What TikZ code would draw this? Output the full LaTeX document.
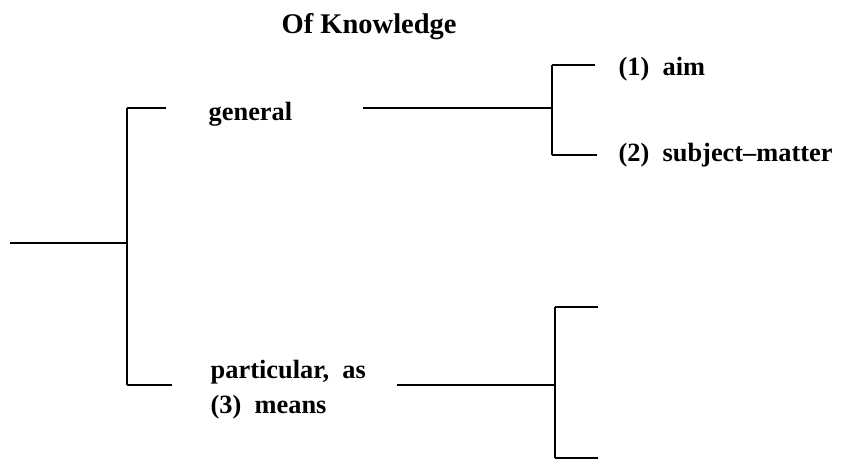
\documentclass[tikz,border=0pt]{standalone}
\usepackage{fontspec}
\setmainfont{Liberation Serif}
\usepackage{tikz}
\usetikzlibrary{positioning}

\tikzset{
  lbl/.style={inner sep=0pt, anchor=base west, font=\bfseries\fontsize{7.5}{9}\selectfont},
  head/.style={lbl, font=\bfseries\fontsize{8.1}{10}\selectfont},
  stub/.style={line width=0.8pt},
  stem/.style={line width=0.35pt}
}

\begin{document}
\begin{tikzpicture}[x=0.01cm,y=-0.01cm]
\useasboundingbox (0,0) rectangle (867,460);

% title
\node[head] (title) at (281,33) {Of Knowledge};

% main fork
\coordinate (root) at (10,243);
\coordinate (fork) at (127,243);
\coordinate (ltop) at (127,108);
\coordinate (lbot) at (127,385);
\coordinate (ltopend) at (166,108);
\coordinate (lbotend) at (172,385);
\draw[stub] (root) -- (fork);
\draw[stem] (ltop) -- (lbot);
\draw[stub] (ltop) -- (ltopend);
\draw[stub] (lbot) -- (lbotend);

% general branch
\node[lbl] (general) at (208,120) {general};
\coordinate (gen) at (363,108);
\coordinate (gfork) at (552,108);
\coordinate (gtop) at (552,65);
\coordinate (gbot) at (552,155);
\coordinate (gtopend) at (595,65);
\coordinate (gbotend) at (597,155);
\draw[stub] (gen) -- (gfork);
\draw[stem] (gtop) -- (gbot);
\draw[stub] (gtop) -- (gtopend);
\draw[stub] (gbot) -- (gbotend);
\node[lbl] (aim) at (618,75) {(1)\enspace aim};
\node[lbl] (subject) at (618,161) {(2)\enspace subject--matter};

% particular branch
\node[lbl] (particular) at (210,378) {particular,\enspace as};
\node[lbl] (means) at (210,413) {(3)\enspace means};
\coordinate (part) at (397,385);
\coordinate (pfork) at (555,385);
\coordinate (ptop) at (555,307);
\coordinate (pbot) at (555,458);
\coordinate (ptopend) at (598,307);
\coordinate (pbotend) at (598,458);
\draw[stub] (part) -- (pfork);
\draw[stem] (ptop) -- (pbot);
\draw[stub] (ptop) -- (ptopend);
\draw[stub] (pbot) -- (pbotend);
\end{tikzpicture}
\end{document}
